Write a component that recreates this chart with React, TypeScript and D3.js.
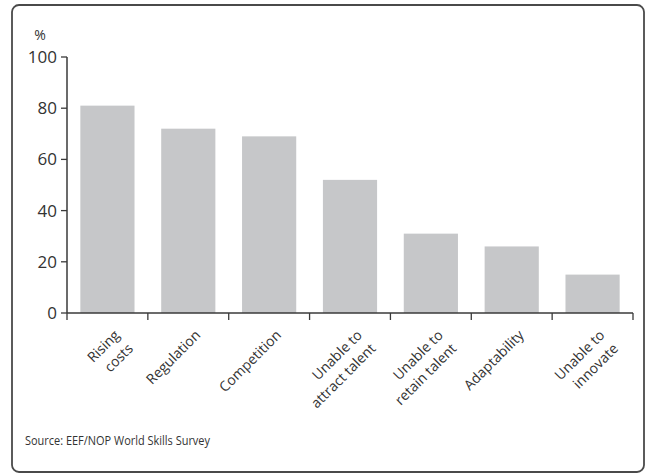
import React from "react";
import * as d3 from "d3";

const categories: string[][] = [
  ["Rising", "costs"],
  ["Regulation"],
  ["Competition"],
  ["Unable to", "attract talent"],
  ["Unable to", "retain talent"],
  ["Adaptability"],
  ["Unable to", "innovate"],
];
const values: number[] = [81, 72, 69, 52, 31, 26, 15];
const yTicks: number[] = [0, 20, 40, 60, 80, 100];
const unitLabel = "%";
const sourceText = "Source: EEF/NOP World Skills Survey";

const W = 650;
const H = 475;
const left = 67;
const right = 633;
const top = 57;
const bottom = 313;
const FONT = "'Open Sans', 'Noto Sans', sans-serif";
const AXIS = "#3a3a3a";
const TEXT = "#333";

export default function App() {
  const keys = categories.map((c) => c.join(" "));
  const x = d3.scaleBand<string>().domain(keys).range([left, right]).paddingInner(0.33).paddingOuter(0.165);
  const y = d3.scaleLinear().domain([0, 100]).range([bottom, top]);
  const step = (right - left) / keys.length;
  const boundaries = d3.range(keys.length + 1).map((i) => left + i * step);

  return (
    <svg
      width={W}
      height={H}
      style={{ position: "absolute", left: 0, top: 0, background: "#fff" }}
    >
      <rect x={12} y={5} width={632} height={467} rx={7} ry={7} fill="#fff" stroke="#4a4a4a" strokeWidth={1.8} />
      {values.map((v, i) => (
        <rect
          key={keys[i]}
          x={x(keys[i])}
          y={y(v)}
          width={x.bandwidth()}
          height={y(0) - y(v)}
          fill="#c6c7c9"
        />
      ))}
      {/* y axis */}
      <line x1={left} x2={left} y1={y(0)} y2={y(100)} stroke={AXIS} strokeWidth={1.5} />
      {yTicks.map((t) => (
        <g key={t}>
          <line x1={left - 6} x2={left} y1={y(t)} y2={y(t)} stroke={AXIS} strokeWidth={1.3} />
          <text
            x={left - 10}
            y={y(t)}
            dy="0.35em"
            textAnchor="end"
            fontFamily={FONT}
            fontSize={17}
            fill={TEXT}
          >
            {t}
          </text>
        </g>
      ))}
      <text x={40} y={40} textAnchor="middle" fontFamily={FONT} fontSize={14} fill={TEXT}>
        {unitLabel}
      </text>
      {/* x axis */}
      <line x1={left} x2={right} y1={y(0)} y2={y(0)} stroke={AXIS} strokeWidth={1.5} />
      {boundaries.map((b, i) => (
        <line key={i} x1={b} x2={b} y1={y(0)} y2={y(0) + 7} stroke={AXIS} strokeWidth={1.3} />
      ))}
      {categories.map((lines, i) => {
        const cx = (x(keys[i]) as number) + x.bandwidth() / 2;
        return (
          <text
            key={keys[i]}
            transform={`translate(${cx + 13},${y(0) + 23}) rotate(-45)`}
            textAnchor="end"
            fontFamily={FONT}
            fontSize={14}
            fill={TEXT}
          >
            {lines.map((l, j) => (
              <tspan key={j} x={0} dy={j === 0 ? 0 : 19}>
                {l}
              </tspan>
            ))}
          </text>
        );
      })}
      <text x={25} y={445} fontFamily={FONT} fontSize={12} fill={TEXT} textLength={185} lengthAdjust="spacingAndGlyphs">
        {sourceText}
      </text>
    </svg>
  );
}
